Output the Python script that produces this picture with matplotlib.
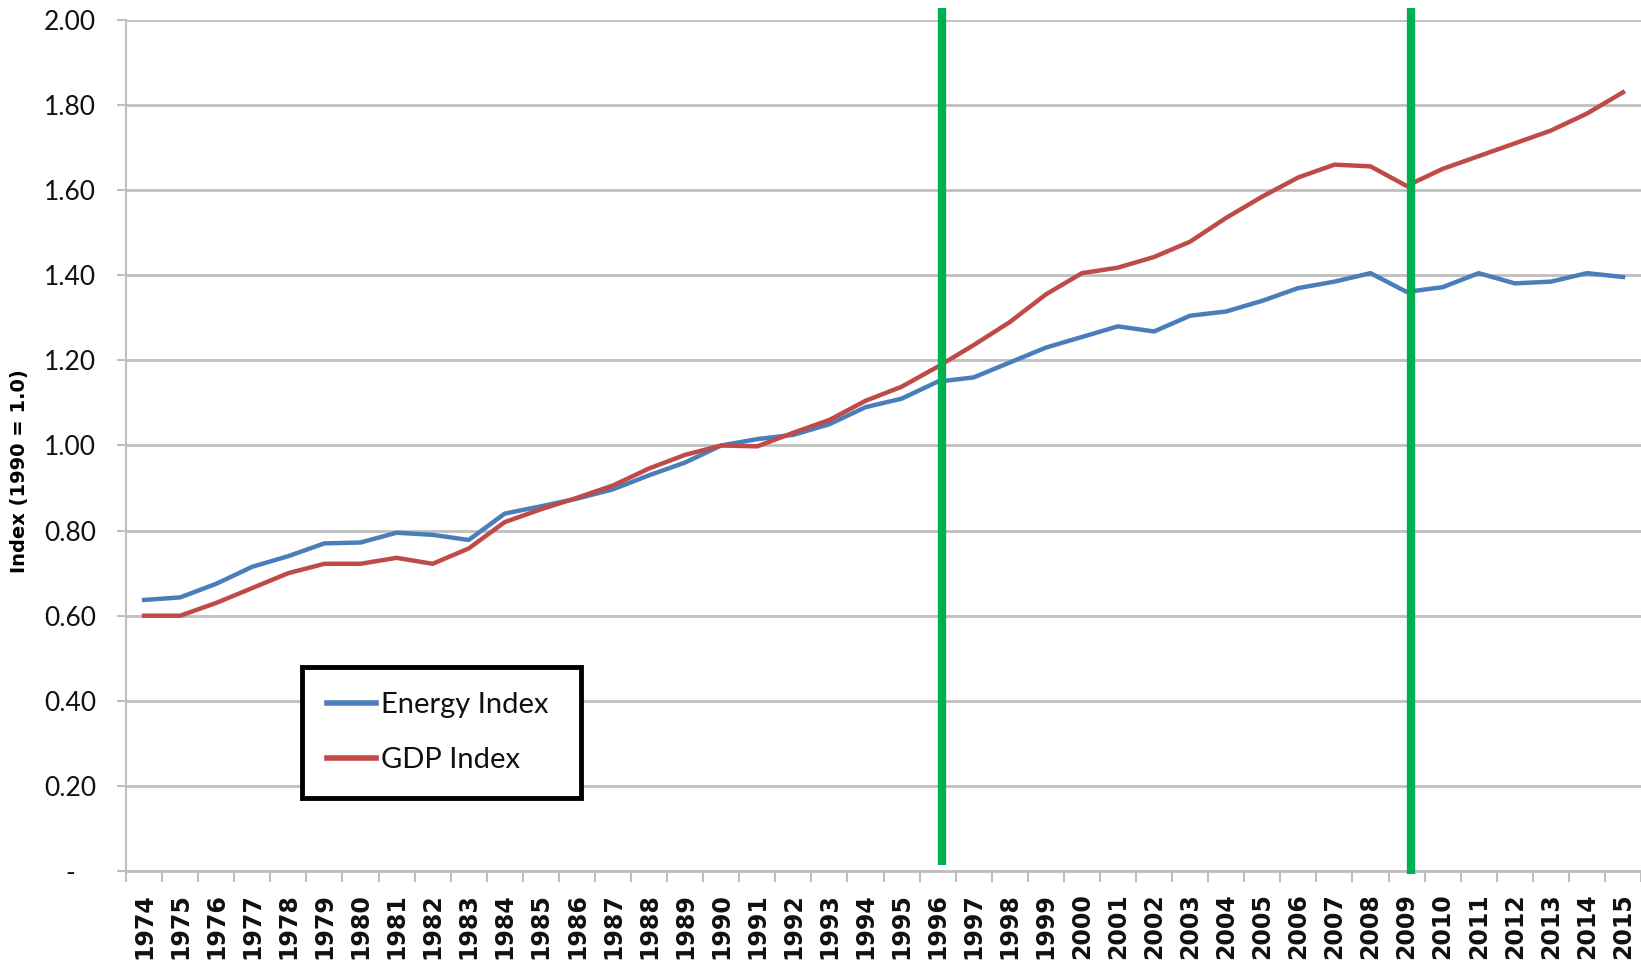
import matplotlib
matplotlib.use("Agg")
import matplotlib.pyplot as plt
from matplotlib.ticker import FixedLocator, FuncFormatter

# --- data ---
years = list(range(1974, 2016))
energy_index = [0.637, 0.643, 0.675, 0.715, 0.740, 0.770, 0.772, 0.795, 0.790, 0.778,
                0.840, 0.857, 0.875, 0.897, 0.930, 0.960, 1.000, 1.015, 1.025, 1.050,
                1.090, 1.110, 1.150, 1.160, 1.195, 1.230, 1.255, 1.280, 1.268, 1.305,
                1.315, 1.340, 1.370, 1.385, 1.405, 1.361, 1.372, 1.405, 1.381, 1.385,
                1.405, 1.396]
gdp_index = [0.600, 0.600, 0.630, 0.665, 0.700, 0.722, 0.722, 0.736, 0.722, 0.758,
             0.820, 0.850, 0.877, 0.906, 0.946, 0.978, 1.000, 0.998, 1.030, 1.060,
             1.105, 1.138, 1.185, 1.236, 1.290, 1.355, 1.405, 1.418, 1.443, 1.479,
             1.535, 1.585, 1.630, 1.660, 1.656, 1.610, 1.650, 1.680, 1.710, 1.740,
             1.780, 1.830]
marker_years = [1996, 2009]
y_ticks = [0.0, 0.2, 0.4, 0.6, 0.8, 1.0, 1.2, 1.4, 1.6, 1.8, 2.0]

label_font = ["Lato", "DejaVu Sans"]

fig = plt.figure(figsize=(16.41, 9.65), dpi=100)
ax = fig.add_axes([0.0768, 0.0974, 0.9232, 0.8819])

x = list(range(len(years)))
ax.plot(x, energy_index, color="#4A7EBB", lw=3.2, label="Energy Index", zorder=3)
ax.plot(x, gdp_index, color="#BE4B48", lw=3.2, label="GDP Index", zorder=3)

# green marker lines (drawn a bit past the plot area, like the original)
for yr, bottom in zip(marker_years, [0.015, -0.008]):
    i = years.index(yr)
    ax.plot([i + 0.12, i + 0.12], [bottom, 2.027], color="#00B050", lw=6,
            clip_on=False, zorder=4, solid_capstyle="butt")

ax.set_xlim(-0.5, len(years) - 0.5)
ax.set_ylim(0, 2.0)

# y axis
ax.yaxis.set_major_locator(FixedLocator(y_ticks))
ax.yaxis.set_major_formatter(FuncFormatter(lambda v, p: "-   " if abs(v) < 1e-9 else f"{v:.2f}"))
ax.grid(axis="y", color="#BFBFBF", lw=2)
ax.set_axisbelow(True)
ax.tick_params(axis="y", length=6.5, width=1.5, color="#BFBFBF", pad=15)
for lab in ax.get_yticklabels():
    lab.set_family(label_font)
    lab.set_fontsize(19)
    lab.set_color("#111111")

# x axis: labels on categories, tick marks between them
ax.set_xticks(x)
ax.set_xticklabels([str(y) for y in years], rotation=90, fontsize=17,
                   fontweight="bold", color="#111111")
ax.set_xticks([i - 0.5 for i in range(len(years) + 1)], minor=True)
ax.tick_params(axis="x", which="major", length=0, pad=16)
ax.tick_params(axis="x", which="minor", length=8, width=1.5, color="#BFBFBF")

for s in ["top", "right"]:
    ax.spines[s].set_visible(False)
ax.spines["left"].set_color("#BFBFBF")
ax.spines["left"].set_linewidth(1.5)
ax.spines["bottom"].set_color("#BFBFBF")
ax.spines["bottom"].set_linewidth(2)

ax.set_ylabel("Index (1990 = 1.0)", fontsize=14, fontweight="bold")
ax.yaxis.set_label_coords(-0.064, 0.47)

leg = ax.legend(loc="lower left", bbox_to_anchor=(0.116, 0.086, 0.184, 0.169),
                mode="expand", fancybox=False, framealpha=1, edgecolor="black",
                prop={"family": label_font, "size": 21}, handlelength=1.7,
                handletextpad=0.15, labelspacing=1.0, borderpad=0.85,
                borderaxespad=0)
leg.get_frame().set_linewidth(3.5)
for line in leg.get_lines():
    line.set_linewidth(4)
for t in leg.get_texts():
    t.set_color("#111111")

fig.savefig("out.png", dpi=100)
